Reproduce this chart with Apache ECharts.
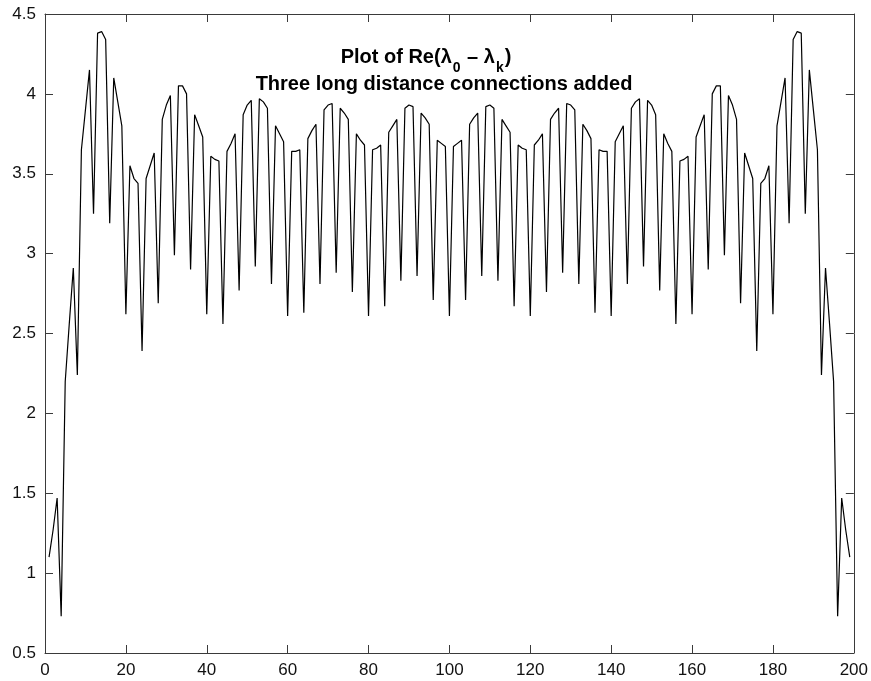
<!DOCTYPE html>
<html>
<head>
<meta charset="utf-8">
<script src="https://cdn.jsdelivr.net/npm/echarts@6/dist/echarts.min.js"></script>
<style>
  html, body { margin: 0; padding: 0; background: #fff; }
  #chart { width: 871px; height: 681px; }
</style>
</head>
<body>
<div id="chart"></div>
<script>
// Re(lambda_0 - lambda_k), k = 1..199
const reVals = [
  1.10, 1.27, 1.47, 0.73, 2.20, 2.56, 2.91, 2.24, 3.65, 3.90,
  4.15, 3.25, 4.38, 4.39, 4.34, 3.19, 4.10, 3.95, 3.80, 2.62,
  3.55, 3.47, 3.44, 2.39, 3.47, 3.55, 3.63, 2.69, 3.84, 3.93,
  3.99, 2.99, 4.05, 4.05, 4.00, 2.90, 3.87, 3.80, 3.73, 2.62,
  3.61, 3.59, 3.58, 2.56, 3.64, 3.69, 3.75, 2.77, 3.87, 3.93,
  3.96, 2.92, 3.97, 3.95, 3.91, 2.81, 3.80, 3.75, 3.70, 2.61,
  3.64, 3.64, 3.65, 2.63, 3.72, 3.77, 3.81, 2.81, 3.90, 3.93,
  3.94, 2.88, 3.91, 3.88, 3.84, 2.76, 3.75, 3.71, 3.68, 2.61,
  3.65, 3.66, 3.68, 2.67, 3.76, 3.80, 3.84, 2.83, 3.91, 3.93,
  3.92, 2.86, 3.88, 3.85, 3.81, 2.71, 3.71, 3.69, 3.67, 2.61,
  3.67, 3.69, 3.71, 2.71, 3.81, 3.85, 3.88, 2.86, 3.92, 3.93,
  3.91, 2.83, 3.84, 3.80, 3.76, 2.67, 3.68, 3.66, 3.65, 2.61,
  3.68, 3.71, 3.75, 2.76, 3.84, 3.88, 3.91, 2.88, 3.94, 3.93,
  3.90, 2.81, 3.81, 3.77, 3.72, 2.63, 3.65, 3.64, 3.64, 2.61,
  3.70, 3.75, 3.80, 2.81, 3.91, 3.95, 3.97, 2.92, 3.96, 3.93,
  3.87, 2.77, 3.75, 3.69, 3.64, 2.56, 3.58, 3.59, 3.61, 2.62,
  3.73, 3.80, 3.87, 2.90, 4.00, 4.05, 4.05, 2.99, 3.99, 3.93,
  3.84, 2.69, 3.63, 3.55, 3.47, 2.39, 3.44, 3.47, 3.55, 2.62,
  3.80, 3.95, 4.10, 3.19, 4.34, 4.39, 4.38, 3.25, 4.15, 3.90,
  3.65, 2.24, 2.91, 2.56, 2.20, 0.73, 1.47, 1.27, 1.10
]
const xMin = 0
const xMax = 200
const xStep = 20
const yMin = 0.5
const yMax = 4.5
const yStep = 0.5

const font = 'Liberation Sans, Arial, Helvetica, sans-serif'
const axisColor = '#3a3a3a'

function frameAxis(pos, min, max, step, showLabel) {
  return {
    type: 'value',
    position: pos,
    min: min,
    max: max,
    interval: step,
    splitLine: { show: false },
    axisLine: { show: true, onZero: false, lineStyle: { color: axisColor, width: 1 } },
    axisTick: { show: true, inside: true, length: 8, lineStyle: { color: axisColor } },
    axisLabel: {
      show: showLabel,
      color: '#111',
      fontFamily: font,
      fontSize: 17,
      margin: 9
    }
  }
}

const chart = echarts.init(document.getElementById('chart'))
chart.setOption({
  animation: false,
  backgroundColor: '#fff',
  title: [
    {
      text: 'Plot of Re(λ{sub|0} – λ{sub|k})',
      left: 421,
      top: 32,
      textAlign: 'center',
      textStyle: {
        fontFamily: font,
        fontWeight: 'bold',
        fontSize: 20,
        color: '#000',
        lineHeight: 40,
        rich: {
          sub: {
            fontFamily: font,
            fontWeight: 'bold',
            fontSize: 14,
            color: '#000',
            lineHeight: 18,
            padding: [22, 1, 0, 1]
          }
        }
      }
    },
    {
      text: 'Three long distance connections added',
      left: 439,
      top: 69,
      textAlign: 'center',
      textStyle: {
        fontFamily: font,
        fontWeight: 'bold',
        fontSize: 20,
        lineHeight: 20,
        color: '#000'
      }
    }
  ],
  grid: { left: 45, right: 16, top: 14, bottom: 28 },
  xAxis: [
    frameAxis('bottom', xMin, xMax, xStep, true),
    frameAxis('top', xMin, xMax, xStep, false)
  ],
  yAxis: [
    frameAxis('left', yMin, yMax, yStep, true),
    frameAxis('right', yMin, yMax, yStep, false)
  ],
  series: [
    {
      type: 'line',
      data: reVals.map((v, i) => [i + 1, v]),
      showSymbol: false,
      lineStyle: { color: '#000', width: 1.2 }
    }
  ]
})
</script>
</body>
</html>
